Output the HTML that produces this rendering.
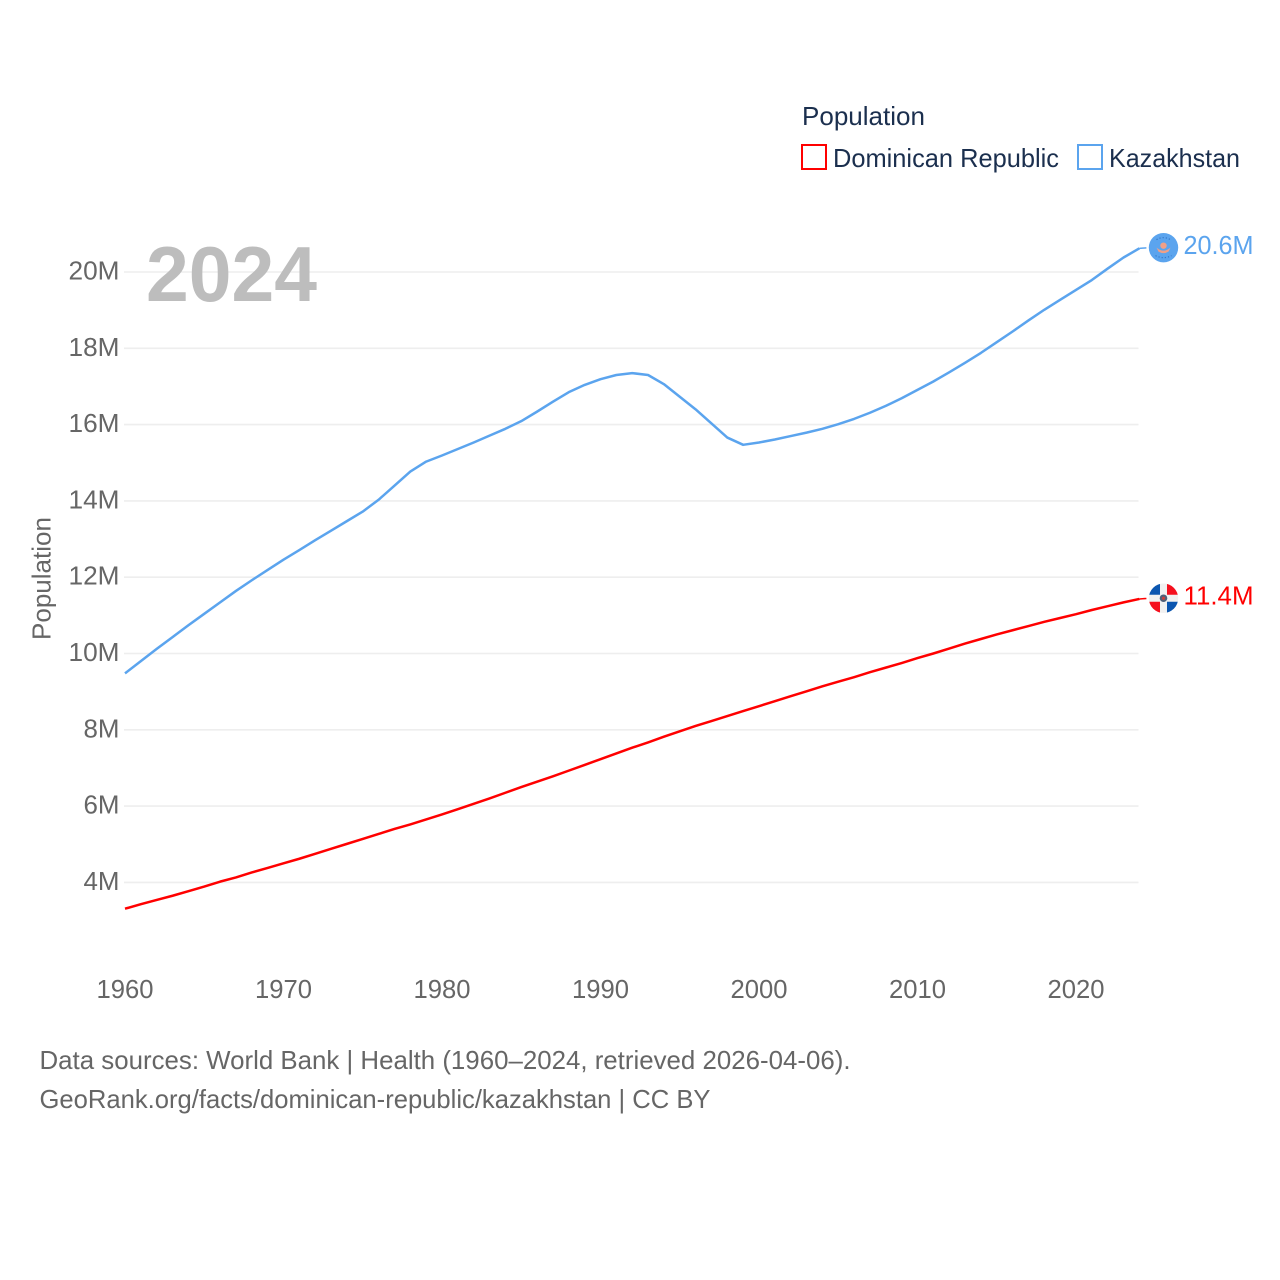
<!DOCTYPE html>
<html lang="en">
<head>
<meta charset="utf-8">
<title>Population: Dominican Republic and Kazakhstan</title>
<style>
  html, body { margin: 0; padding: 0; background: #ffffff; }
  #chart-root { display: block; width: 1280px; height: 1280px; }
  text { font-family: "Liberation Sans", "DejaVu Sans", sans-serif; }
</style>
</head>
<body>
<svg id="chart-root" xmlns="http://www.w3.org/2000/svg" width="1280" height="1280" viewBox="0 0 1280 1280">
  <rect x="0" y="0" width="1280" height="1280" fill="#ffffff"/>
  <g id="grid"></g>
  <text x="146" y="301" font-size="78" font-weight="700" fill="#bdbdbd" textLength="171" lengthAdjust="spacingAndGlyphs">2024</text>
  <g id="y-ticks"></g>
  <g id="x-ticks"></g>
  <text transform="translate(50.5 578.5) rotate(-90)" text-anchor="middle" font-size="26" fill="#666666" textLength="123" lengthAdjust="spacingAndGlyphs">Population</text>
  <g id="series"></g>

  <g>
    <text x="802" y="125" font-size="26" fill="#1b2f4e" textLength="123" lengthAdjust="spacingAndGlyphs">Population</text>
    <g>
      <rect x="802" y="145" width="24" height="24" fill="#ffffff" stroke="#ff0000" stroke-width="2"/>
      <text x="833" y="167" font-size="26" fill="#1b2f4e" textLength="226" lengthAdjust="spacingAndGlyphs">Dominican Republic</text>
    </g>
    <g>
      <rect x="1078" y="145" width="24" height="24" fill="#ffffff" stroke="#5ba4ee" stroke-width="2"/>
      <text x="1109" y="167" font-size="26" fill="#1b2f4e" textLength="131" lengthAdjust="spacingAndGlyphs">Kazakhstan</text>
    </g>
  </g>

  <defs>
    <clipPath id="flag-clip"><circle cx="0" cy="0" r="14.7"/></clipPath>
  </defs>

  <g id="flag-kz">
    <g clip-path="url(#flag-clip)">
      <rect x="-15" y="-15" width="30" height="30" fill="#5ba4ee"/>
      <path d="M-7 -8 Q0 -12 7 -8" fill="none" stroke="#3578c8" stroke-width="1.2" stroke-dasharray="1.2 2"/>
      <path d="M-8 8 Q0 12 8 8" fill="none" stroke="#3578c8" stroke-width="1.2" stroke-dasharray="1.2 2"/>
      <circle cx="0" cy="-2" r="3.2" fill="#f0a088"/>
      <path d="M-7 0 Q0 6 7 0 L5 4 Q0 7 -5 4 Z" fill="#f0a088"/>
    </g>
  </g>
  <g id="flag-do">
    <g clip-path="url(#flag-clip)">
      <rect x="-15" y="-15" width="30" height="30" fill="#f1f1f1"/>
      <rect x="-15" y="-15" width="11.5" height="11.5" fill="#0b56b0"/>
      <rect x="3.5" y="-15" width="11.5" height="11.5" fill="#f5101e"/>
      <rect x="-15" y="3.5" width="11.5" height="11.5" fill="#f5101e"/>
      <rect x="3.5" y="3.5" width="11.5" height="11.5" fill="#0b56b0"/>
      <circle cx="0" cy="0" r="3.8" fill="#4f5f78"/>
      <circle cx="0" cy="0" r="1.6" fill="#c4403f"/>
    </g>
  </g>

  <g>
    <text x="39.5" y="1069" font-size="26" fill="#666666" textLength="811" lengthAdjust="spacingAndGlyphs">Data sources: World Bank | Health (1960–2024, retrieved 2026-04-06).</text>
    <text x="39.5" y="1108" font-size="26" fill="#666666" textLength="671" lengthAdjust="spacingAndGlyphs">GeoRank.org/facts/dominican-republic/kazakhstan | CC BY</text>
  </g>
</svg>

<script>
const startYear = 1960;
const kazakhstanValues = [
  9.48, 9.80, 10.12, 10.43, 10.74, 11.04, 11.34, 11.64, 11.92, 12.19,
  12.46, 12.71, 12.97, 13.22, 13.47, 13.72, 14.03, 14.40, 14.77, 15.03,
  15.19, 15.36, 15.53, 15.71, 15.89, 16.09, 16.34, 16.60, 16.85, 17.04,
  17.19, 17.30, 17.35, 17.30, 17.06, 16.73, 16.40, 16.03, 15.66, 15.47,
  15.53, 15.61, 15.70, 15.79, 15.89, 16.01, 16.15, 16.31, 16.49, 16.69,
  16.91, 17.13, 17.37, 17.62, 17.88, 18.16, 18.44, 18.73, 19.01, 19.27,
  19.53, 19.79, 20.09, 20.38, 20.62
];
const dominicanValues = [
  3.31, 3.43, 3.54, 3.65, 3.77, 3.89, 4.02, 4.13, 4.26, 4.38,
  4.50, 4.62, 4.75, 4.88, 5.01, 5.14, 5.27, 5.40, 5.52, 5.65,
  5.78, 5.92, 6.06, 6.20, 6.35, 6.50, 6.64, 6.78, 6.93, 7.08,
  7.23, 7.38, 7.53, 7.67, 7.82, 7.96, 8.10, 8.23, 8.36, 8.49,
  8.62, 8.75, 8.88, 9.01, 9.14, 9.26, 9.38, 9.51, 9.63, 9.75,
  9.88, 10.00, 10.13, 10.26, 10.38, 10.50, 10.61, 10.72, 10.83, 10.93,
  11.03, 11.14, 11.24, 11.34, 11.43
];
const yTickValues = [4, 6, 8, 10, 12, 14, 16, 18, 20];
const xTickYears = [1960, 1970, 1980, 1990, 2000, 2010, 2020];

const SVG_NS = 'http://www.w3.org/2000/svg';
const xScale = function (year) { return 125 + (year - 1960) * 15.85; };
const yScale = function (value) { return 882.4 - (value - 4) * 38.15; };

const gridGroup = document.getElementById('grid');
const yTickGroup = document.getElementById('y-ticks');
const xTickGroup = document.getElementById('x-ticks');
const seriesGroup = document.getElementById('series');
const rootSvg = document.getElementById('chart-root');

yTickValues.forEach(function (value) {
  const y = yScale(value);
  const line = document.createElementNS(SVG_NS, 'line');
  
  
  line.setAttribute('x1', 124);
  line.setAttribute('x2', 1138.5);
  line.setAttribute('y1', y);
  line.setAttribute('y2', y);
  line.setAttribute('stroke', '#eeeeee');
  line.setAttribute('stroke-width', 1.6);
  gridGroup.appendChild(line);

  const label = document.createElementNS(SVG_NS, 'text');
  
  
  label.setAttribute('x', 119.5);
  label.setAttribute('y', y + 7.5);
  label.setAttribute('text-anchor', 'end');
  label.setAttribute('font-size', 25.5);
  label.setAttribute('fill', '#666666');
  label.setAttribute('textLength', value >= 10 ? 51 : 36);
  label.setAttribute('lengthAdjust', 'spacingAndGlyphs');
  label.textContent = value + 'M';
  yTickGroup.appendChild(label);
});

xTickYears.forEach(function (year) {
  const label = document.createElementNS(SVG_NS, 'text');
  
  
  label.setAttribute('x', xScale(year));
  label.setAttribute('y', 998);
  label.setAttribute('text-anchor', 'middle');
  label.setAttribute('font-size', 25.5);
  label.setAttribute('fill', '#666666');
  label.setAttribute('textLength', 57);
  label.setAttribute('lengthAdjust', 'spacingAndGlyphs');
  label.textContent = String(year);
  xTickGroup.appendChild(label);
});

function toPoints(values) {
  return values.map(function (value, i) {
    return xScale(startYear + i).toFixed(2) + ',' + yScale(value).toFixed(2);
  }).join(' ');
}

function drawEnd(values, color, flagId) {
  const lastIndex = values.length - 1;
  const lastValue = values[lastIndex];
  const endX = xScale(startYear + lastIndex);
  const endY = yScale(lastValue);

  const connector = document.createElementNS(SVG_NS, 'line');
  
  
  connector.setAttribute('x1', endX);
  connector.setAttribute('y1', endY);
  connector.setAttribute('x2', endX + 7);
  connector.setAttribute('y2', endY - 0.5);
  connector.setAttribute('stroke', color);
  connector.setAttribute('stroke-width', 1.5);
  seriesGroup.appendChild(connector);

  document.getElementById(flagId).setAttribute('transform', 'translate(1163.5 ' + (endY - 0.7) + ')');

  const label = document.createElementNS(SVG_NS, 'text');
  
  
  label.setAttribute('x', 1183.5);
  label.setAttribute('y', endY + 5.5);
  label.setAttribute('font-size', 25.5);
  label.setAttribute('fill', color);
  label.setAttribute('textLength', 70);
  label.setAttribute('lengthAdjust', 'spacingAndGlyphs');
  label.textContent = lastValue.toFixed(1) + 'M';
  rootSvg.appendChild(label);
}

const kazakhstanLine = document.createElementNS(SVG_NS, 'polyline');


kazakhstanLine.setAttribute('points', toPoints(kazakhstanValues));
kazakhstanLine.setAttribute('fill', 'none');
kazakhstanLine.setAttribute('stroke', '#5ba4ee');
kazakhstanLine.setAttribute('stroke-width', 2.5);
kazakhstanLine.setAttribute('stroke-linejoin', 'round');
seriesGroup.appendChild(kazakhstanLine);

const dominicanLine = document.createElementNS(SVG_NS, 'polyline');


dominicanLine.setAttribute('points', toPoints(dominicanValues));
dominicanLine.setAttribute('fill', 'none');
dominicanLine.setAttribute('stroke', '#ff0000');
dominicanLine.setAttribute('stroke-width', 2.5);
dominicanLine.setAttribute('stroke-linejoin', 'round');
seriesGroup.appendChild(dominicanLine);

drawEnd(kazakhstanValues, '#5ba4ee', 'flag-kz');
drawEnd(dominicanValues, '#ff0000', 'flag-do');
</script>
</body>
</html>
